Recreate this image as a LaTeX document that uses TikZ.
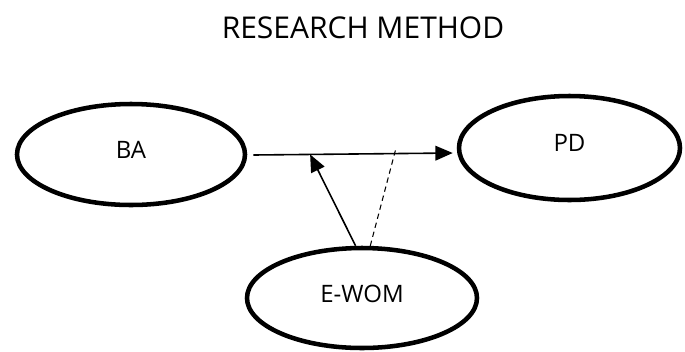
\documentclass[tikz,border=0pt]{standalone}
\usepackage{fontspec}
\setmainfont{Open Sans}
\usetikzlibrary{shapes.geometric,arrows.meta,calc}

\tikzset{
    construct/.style={draw,ellipse,line width=3.4pt,inner sep=0pt,text depth=7pt,font=\fontsize{18}{20}\selectfont},
    path arrow/.style={line width=1.2pt,-{Triangle[length=13pt,width=11pt]}},
    moderator/.style={line width=0.8pt,dash pattern=on 4pt off 3pt},
}

\begin{document}
\begin{tikzpicture}[x=0.75pt,y=-0.75pt]
        \useasboundingbox (0,0) rectangle (685,351);

        \coordinate (cBA) at (131,154.5);
        \coordinate (cPD) at (569.5,148);
        \coordinate (cEWOM) at (362,298);

        \node[font=\fontsize{22.5}{27}\selectfont] (title) at (363,27.5) {RESEARCH METHOD};

        \node[construct,minimum width=171pt,minimum height=75.75pt] (BA) at (cBA) {BA};
        \node[construct,minimum width=165.75pt,minimum height=78pt] (PD) at (cPD) {PD};
        \node[construct,minimum width=172.5pt,minimum height=75pt] (EWOM) at (cEWOM) {E-WOM};

        \coordinate (from) at ($(BA.east)+(6,0.5)$);
        \coordinate (to) at ($(PD.west)+(-4,5)$);
        \coordinate (hit) at ($(from)!0.285!(to)$);
        \coordinate (dashend) at ($(from)!0.715!(to)+(0,-5)$);

        \draw[path arrow] (from) -- (to);
        \draw[path arrow] (EWOM.97) -- (hit);
        \draw[moderator] (EWOM.81) -- (dashend);
    \end{tikzpicture}
\end{document}
